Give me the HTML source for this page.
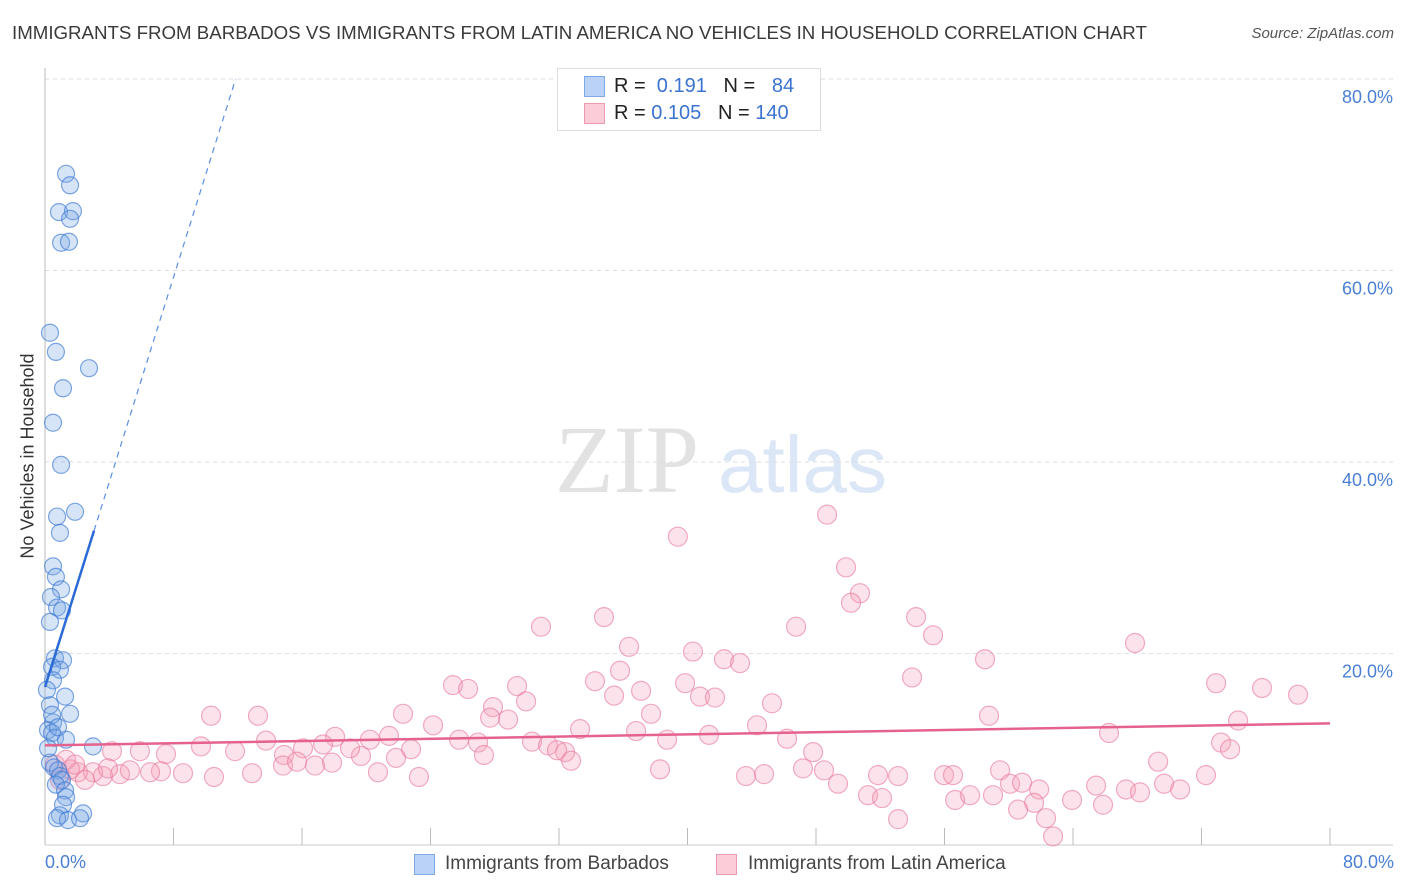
<!DOCTYPE html>
<html><head><meta charset="utf-8"><style>
body{margin:0;background:#fff;font-family:"Liberation Sans",sans-serif;}
#wrap{position:relative;width:1406px;height:892px;overflow:hidden;}
.t{position:absolute;white-space:nowrap;}
</style></head><body><div id="wrap">
<div class="t" style="left:12px;top:22px;font-size:18.7px;color:#3a3a3a;">IMMIGRANTS FROM BARBADOS VS IMMIGRANTS FROM LATIN AMERICA NO VEHICLES IN HOUSEHOLD CORRELATION CHART</div>
<div class="t" style="right:12px;top:25px;font-size:15px;color:#555;font-style:italic;">Source: ZipAtlas.com</div>
<div class="t" style="left:28px;top:456px;font-size:18px;color:#333;transform:translate(-50%,-50%) rotate(-90deg);">No Vehicles in Household</div>
<div class="t" style="left:45px;top:852px;font-size:18px;color:#4a7fd4;">0.0%</div>
<div class="t" style="right:12px;top:852px;font-size:18px;color:#4a7fd4;">80.0%</div>
<svg id="svg" width="1406" height="892" style="position:absolute;left:0;top:0">
<text x="555" y="492" font-family="Liberation Serif,serif" font-size="96" fill="#e2e2e2">ZIP</text>
<text x="718" y="492" font-family="Liberation Sans,sans-serif" font-size="80" fill="#dbe6f6">atlas</text>
</svg>
<div style="position:absolute;left:557px;top:68px;width:262px;height:61px;border:1px solid #ddd;background:#fff;font-size:20px;">
<div style="position:absolute;left:26px;top:7px;width:19px;height:19px;background:#b9d2f5;border:1px solid #7fa8e6;"></div>
<div class="t" style="left:56px;top:6px;color:#222;">R = &nbsp;<span style="color:#3b73d1">0.191</span>&nbsp;&nbsp; N = &nbsp;&nbsp;<span style="color:#3b73d1">84</span></div>
<div style="position:absolute;left:26px;top:34px;width:19px;height:19px;background:#fbcdd9;border:1px solid #ee9ab2;"></div>
<div class="t" style="left:56px;top:33px;color:#222;">R = <span style="color:#3b73d1">0.105</span>&nbsp;&nbsp; N = <span style="color:#3b73d1">140</span></div>
</div>
<div style="position:absolute;top:853px;left:414px;font-size:19px;color:#444;">
<div style="position:absolute;left:0;top:1px;width:19px;height:19px;background:#b9d2f5;border:1px solid #7fa8e6;"></div>
<div class="t" style="left:31px;top:0">Immigrants from Barbados</div>
<div style="position:absolute;left:302px;top:1px;width:19px;height:19px;background:#fbcdd9;border:1px solid #ee9ab2;"></div>
<div class="t" style="left:334px;top:0">Immigrants from Latin America</div>
</div>
</div>
<script>
const yTicks=[20,40,60,80];
const yTickLabels=["20.0%","40.0%","60.0%","80.0%"];
const xTicks=[0,8,16,24,32,40,48,56,64,72,80];
const blueX=[1.31,1.56,0.87,1.74,1.56,1.0,1.49,0.31,0.68,1.12,2.74,0.5,1.0,1.87,0.75,0.93,0.5,0.68,1.0,0.37,0.75,1.06,0.31,0.62,1.12,0.44,0.93,0.5,1.25,0.31,1.56,0.5,0.19,0.44,0.62,1.31,2.99,0.31,0.56,0.81,0.93,1.06,0.68,1.25,1.31,1.12,0.93,2.37,0.75,1.43,2.18,0.19,0.44,0.12,0.81];
const blueY=[70.1,68.9,66.1,66.2,65.4,62.9,63.0,53.5,51.5,47.7,49.8,44.1,39.7,34.8,34.3,32.6,29.1,28.0,26.7,25.9,24.8,24.5,23.3,19.5,19.3,18.6,18.3,17.2,15.5,14.6,13.7,12.8,12.0,11.7,11.2,11.0,10.3,8.6,8.1,7.8,7.2,6.8,6.3,5.7,5.0,4.2,3.1,3.3,2.8,2.6,2.8,10.1,13.6,16.2,12.3];
const pinkX=[39.4,48.69,49.87,50.74,50.18,34.8,54.23,30.88,46.76,55.29,36.36,67.86,40.34,42.27,43.27,58.52,35.8,53.98,72.91,25.4,26.34,34.24,29.39,37.11,39.85,75.77,40.78,41.71,35.43,78.01,45.26,27.89,29.95,37.73,10.34,13.26,22.29,58.77,24.16,28.83,74.28,44.33,33.31,36.8,21.42,41.34,25.78,27.71,26.96,38.73,46.2,30.32,31.32,32.38,66.24,73.22,73.78,20.23,18.06,13.76,16.06,17.31,22.79,14.88,19.67,18.99,9.71,11.83,5.91,7.53,4.17,27.33,47.82,21.85,31.88,32.75,7.22,8.59,10.52,12.89,14.82,15.69,16.81,17.87,20.73,23.28,38.29,43.64,44.77,47.19,48.5,49.37,51.86,53.11,55.97,56.53,59.46,69.3,72.28,60.08,60.83,61.89,65.44,67.3,68.17,69.67,70.67,51.24,52.11,56.66,57.59,59.02,61.58,63.94,65.87,60.58,62.32,53.11,62.76,4.67,5.29,3.61,2.99,2.05,1.56,0.93,2.49,6.54,3.92,0.62,1.31,1.87];
const pinkY=[32.2,34.5,29.0,26.3,25.3,23.8,23.8,22.8,22.8,21.9,20.7,21.1,20.2,19.4,19.0,19.4,18.2,17.5,16.9,16.7,16.3,17.1,16.6,16.1,16.9,16.4,15.5,15.4,15.6,15.7,14.8,14.4,15.0,13.7,13.5,13.5,13.7,13.5,12.5,13.1,13.0,12.5,12.1,11.9,11.4,11.5,11.0,13.3,10.7,11.0,11.1,10.8,10.4,9.7,11.7,10.7,10.0,11.0,11.3,10.9,10.1,10.5,10.0,9.4,9.3,10.1,10.3,9.8,9.8,9.5,9.8,9.4,9.7,9.1,9.9,8.8,7.7,7.5,7.1,7.5,8.3,8.7,8.3,8.6,7.6,7.1,7.9,7.2,7.4,8.0,7.8,6.4,7.3,7.2,7.3,7.3,7.8,8.7,7.3,6.4,6.5,5.8,6.2,5.8,5.5,6.4,5.8,5.2,4.9,4.7,5.2,5.2,4.4,4.7,4.2,3.7,2.8,2.7,0.9,7.4,7.8,7.2,7.6,7.6,7.9,6.8,6.8,7.6,8.0,8.4,8.9,8.4];
const blueTrend=[16.5,5.35];
const pinkTrend=[10.4,12.7];
const X=v=>45+v*(1330-45)/80;
const Y=v=>845-v*(845-79)/80;
const svg=document.getElementById('svg');
const NS='http://www.w3.org/2000/svg';
function mk(t,a){const e=document.createElementNS(NS,t);for(const k in a)e.setAttribute(k,a[k]);svg.appendChild(e);return e;}
yTicks.forEach((v,i)=>{
 const g=mk('line',{x1:45,x2:1393,y1:Y(v),y2:Y(v),stroke:'#ddd','stroke-dasharray':'4,4'});
 
 
 const t=mk('text',{x:1393,y:Y(v)+24,'text-anchor':'end','font-size':18,fill:'#4a7fd4','font-family':'Liberation Sans,sans-serif'});
 t.textContent=yTickLabels[i];
 
 
});
const ax=mk('line',{x1:45,x2:45,y1:68,y2:845,stroke:'#bbb'});


const bx=mk('line',{x1:45,x2:1393,y1:845,y2:845,stroke:'#ccc'});


xTicks.forEach(v=>{
 const l=mk('line',{x1:X(v),x2:X(v),y1:828,y2:845,stroke:'#bbb'});
 
 
});
pinkX.forEach((v,i)=>{
 const c=mk('circle',{cx:X(v),cy:Y(pinkY[i]),r:9.5,fill:'rgba(246,160,186,0.3)',stroke:'rgba(232,120,155,0.6)','stroke-width':1.2});
 
 
});
blueX.forEach((v,i)=>{
 const c=mk('circle',{cx:X(v),cy:Y(blueY[i]),r:8.5,fill:'rgba(120,165,230,0.3)',stroke:'rgba(60,120,210,0.65)','stroke-width':1.2});
 
 
});
const bEnd=(80-blueTrend[0])/blueTrend[1];
const bd=mk('line',{x1:X(3.05),y1:Y(blueTrend[0]+blueTrend[1]*3.05),x2:X(bEnd),y2:Y(80),stroke:'#5a8ee0','stroke-width':1.2,'stroke-dasharray':'6,5'});


const bl=mk('line',{x1:X(0),y1:Y(blueTrend[0]),x2:X(3.05),y2:Y(blueTrend[0]+blueTrend[1]*3.05),stroke:'#2a6bd6','stroke-width':2.5});


const pl=mk('line',{x1:X(0),y1:Y(pinkTrend[0]),x2:X(80),y2:Y(pinkTrend[1]),stroke:'#e5628e','stroke-width':2.5});


</script>
</body></html>
